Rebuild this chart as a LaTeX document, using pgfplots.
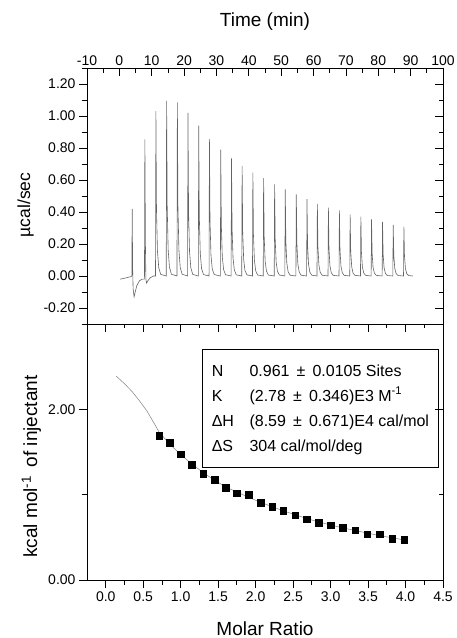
\documentclass[border=0pt]{standalone}
\usepackage{pgfplots}
\pgfplotsset{compat=1.18}
\usepackage{fontspec}
\setmainfont{Liberation Sans}
\definecolor{trace}{RGB}{100,100,100}
\newcommand\labfont{\fontsize{19}{22}\selectfont}
\begin{document}
\begin{tikzpicture}
\useasboundingbox (-87pt,-58pt) rectangle (370pt,580pt);
\pgfplotsset{
  every axis/.append style={
    scale only axis, width=356pt, height=256pt,
    axis line style={black, line width=0.8pt},
    tick style={black, line width=0.8pt},
    major tick length=8pt, minor tick length=4.5pt,
    tick label style={font=\fontsize{14}{16}\selectfont},
    /pgf/number format/assume math mode=true,
  }
}
% ---------------- top panel ----------------
\begin{axis}[at={(0pt,256pt)}, anchor=south west,
  xmin=-10, xmax=100, ymin=-0.3, ymax=1.3,
  xtick=\empty,
  ytick={-0.2,0,0.2,0.4,0.6,0.8,1.0,1.2},
  minor ytick={-0.3,-0.1,0.1,0.3,0.5,0.7,0.9,1.1,1.3},
  ytick pos=left, tick align=outside,
  yticklabel style={/pgf/number format/.cd, fixed, fixed zerofill, precision=2},
  ylabel={µcal/sec},
  every axis y label/.style={at={(axis description cs:-0.160,0.465)}, rotate=90, anchor=base, font=\fontsize{17.5}{20}\selectfont},
  xlabel={Time (min)},
  every axis x label/.style={at={(axis description cs:0.5,1.164)}, anchor=base, font=\labfont},
]
\addplot[trace, line width=0.6pt] table {
0.2 -0.02
2.0 -0.012
3.7 -0.003
3.85 0
3.97 0.42
4.10 0.05
4.25 -0.08
4.55 -0.13
4.9 -0.10
5.4 -0.06
6.2 -0.03
7.0 -0.02
7.70 -0.02
7.76 0
7.88 0.854
8.05 0.2
8.2 -0.02
8.4 -0.045
8.8 -0.03
9.5 -0.012
10.5 0
11.17 0
11.29 1.03
11.47 0.412
11.77 0.155
12.17 0.052
12.77 0.010
14.48 0
14.60 1.095
14.78 0.438
15.08 0.164
15.48 0.055
16.08 0.011
17.80 0
17.92 1.085
18.10 0.434
18.40 0.163
18.80 0.054
19.40 0.011
21.08 0
21.20 1.02
21.38 0.408
21.68 0.153
22.08 0.051
22.68 0.010
24.40 0
24.52 0.94
24.70 0.376
25.00 0.141
25.40 0.047
26.00 0.009
27.71 0
27.83 0.855
28.01 0.342
28.31 0.128
28.71 0.043
29.31 0.009
31.21 0
31.33 0.79
31.51 0.316
31.81 0.119
32.21 0.040
32.81 0.008
34.53 0
34.65 0.735
34.83 0.294
35.13 0.110
35.53 0.037
36.13 0.007
37.81 0
37.93 0.688
38.11 0.275
38.41 0.103
38.81 0.034
39.41 0.007
41.13 0
41.25 0.646
41.43 0.258
41.73 0.097
42.13 0.032
42.73 0.006
44.45 0
44.57 0.612
44.75 0.245
45.05 0.092
45.45 0.031
46.05 0.006
47.85 0
47.97 0.573
48.15 0.229
48.45 0.086
48.85 0.029
49.45 0.006
51.14 0
51.26 0.542
51.44 0.217
51.74 0.081
52.14 0.027
52.74 0.005
54.55 0
54.67 0.51
54.85 0.204
55.15 0.077
55.55 0.026
56.15 0.005
57.86 0
57.98 0.48
58.16 0.192
58.46 0.072
58.86 0.024
59.46 0.005
61.06 0
61.18 0.45
61.36 0.18
61.66 0.068
62.06 0.023
62.66 0.005
64.47 0
64.59 0.427
64.77 0.171
65.07 0.064
65.47 0.021
66.07 0.004
67.87 0
67.99 0.41
68.17 0.164
68.47 0.062
68.87 0.021
69.47 0.004
71.19 0
71.31 0.385
71.49 0.154
71.79 0.058
72.19 0.019
72.79 0.004
74.50 0
74.62 0.371
74.80 0.148
75.10 0.056
75.50 0.019
76.10 0.004
77.80 0
77.92 0.354
78.10 0.142
78.40 0.053
78.80 0.018
79.40 0.004
81.20 0
81.32 0.338
81.50 0.135
81.80 0.051
82.20 0.017
82.80 0.003
84.50 0
84.62 0.319
84.80 0.128
85.10 0.048
85.50 0.016
86.10 0.003
87.80 0
87.92 0.308
88.10 0.123
88.40 0.046
88.80 0.015
89.40 0.003
90.7 0
};
\end{axis}
\begin{axis}[at={(0pt,256pt)}, anchor=south west,
  xmin=-10, xmax=100, ymin=-0.3, ymax=1.3,
  axis line style={draw=none},
  xtick={-10,0,10,20,30,40,50,60,70,80,90,100},
  minor xtick={-5,5,15,25,35,45,55,65,75,85,95},
  xtick pos=right, xticklabel pos=right,
  xticklabel style={yshift=-1.5pt},
  ytick={-0.2,0,0.2,0.4,0.6,0.8,1.0,1.2},
  minor ytick={-0.3,-0.1,0.1,0.3,0.5,0.7,0.9,1.1,1.3},
  ytick pos=right, yticklabels={},
  tick align=inside,
]
\end{axis}
% ---------------- bottom panel ----------------
\begin{axis}[at={(0pt,0pt)}, anchor=south west,
  xmin=-0.25, xmax=4.5, ymin=0, ymax=3,
  xtick={0,0.5,1,1.5,2,2.5,3,3.5,4,4.5},
  minor xtick={0.25,0.75,1.25,1.75,2.25,2.75,3.25,3.75,4.25},
  ytick={0,2}, minor ytick={1,3},
  xtick pos=left, ytick pos=left, tick align=outside,
  xticklabel style={/pgf/number format/.cd, fixed, fixed zerofill, precision=1},
  yticklabel style={/pgf/number format/.cd, fixed, fixed zerofill, precision=2},
  ylabel={kcal mol\textsuperscript{-1}\, of injectant},
  every axis y label/.style={at={(axis description cs:-0.140,0.443)}, rotate=90, anchor=base, font=\labfont},
  xlabel={Molar Ratio},
  every axis x label/.style={at={(axis description cs:0.5,-0.215)}, anchor=base, font=\labfont},
]
\addplot[gray, line width=0.5pt] table {
0.14 2.39
0.25 2.30
0.35 2.21
0.45 2.10
0.55 1.98
0.65 1.83
0.714 1.73
0.857 1.59
1.000 1.47
1.148 1.36
1.299 1.26
1.450 1.17
1.603 1.09
1.750 1.03
1.906 0.97
2.067 0.91
2.219 0.86
2.370 0.81
2.527 0.765
2.683 0.72
2.843 0.68
3.000 0.645
3.165 0.61
3.331 0.58
3.490 0.55
3.656 0.52
3.820 0.495
3.980 0.47
};
\addplot[only marks, mark=square*, mark size=3.3pt, black] table {
0.714 1.688
0.857 1.61
1.000 1.474
1.148 1.353
1.299 1.248
1.450 1.178
1.603 1.084
1.750 1.018
1.906 1.002
2.067 0.905
2.219 0.857
2.370 0.81
2.527 0.76
2.683 0.713
2.843 0.670
3.000 0.640
3.165 0.616
3.331 0.585
3.490 0.538
3.656 0.538
3.820 0.483
3.980 0.471
};
\draw[black, line width=0.8pt] (axis description cs:0.325,0.4387) rectangle (axis description cs:0.987,0.901);
\begin{scope}[every node/.style={font=\fontsize{16}{18}\selectfont, anchor=base west, inner sep=0pt}]
\node at (axis description cs:0.350,0.794) {N};
\node at (axis description cs:0.456,0.794) {0.961 \,±\, 0.0105 Sites};
\node at (axis description cs:0.350,0.699) {K};
\node at (axis description cs:0.456,0.699) {(2.78 \,±\, 0.346)E3 M\textsuperscript{-1}};
\node at (axis description cs:0.350,0.599) {ΔH};
\node at (axis description cs:0.456,0.599) {(8.59 \,±\, 0.671)E4 cal/mol};
\node at (axis description cs:0.350,0.501) {ΔS};
\node at (axis description cs:0.456,0.501) {304 cal/mol/deg};
\end{scope}
\end{axis}
\begin{axis}[at={(0pt,0pt)}, anchor=south west,
  xmin=-0.25, xmax=4.5, ymin=0, ymax=3,
  axis line style={draw=none},
  xtick={0,0.5,1,1.5,2,2.5,3,3.5,4,4.5},
  minor xtick={0.25,0.75,1.25,1.75,2.25,2.75,3.25,3.75,4.25},
  ytick={0,2}, minor ytick={1,3},
  xtick pos=right, ytick pos=right, xticklabels={}, yticklabels={},
  tick align=inside,
]
\end{axis}
\end{tikzpicture}
\end{document}
